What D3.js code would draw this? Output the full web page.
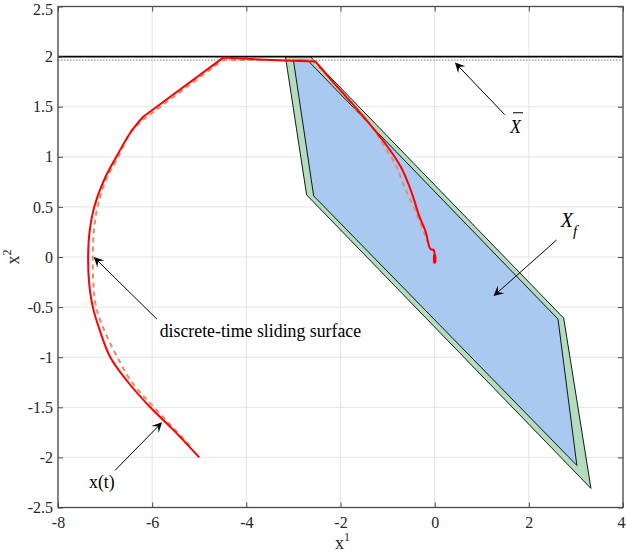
<!DOCTYPE html>
<html>
<head>
<meta charset="utf-8">
<script src="https://cdn.jsdelivr.net/npm/d3@7"></script>
<style>
  body { margin: 0; background: #fff; }
  svg text { font-family: "Liberation Serif", "Times New Roman", Times, "DejaVu Serif", serif; }
</style>
</head>
<body>
<div id="wrapper"></div>
<script>
// Data
const xTicks = [-8, -6, -4, -2, 0, 2, 4]
const yTicks = [-2.5, -2, -1.5, -1, -0.5, 0, 0.5, 1, 1.5, 2, 2.5]

// terminal set (outer) and tightened terminal set (inner)
const outerSet = [[-3.17, 2.0], [-2.64, 2.0], [2.74, -0.61], [3.32, -2.31], [-2.72, 0.62]]
const innerSet = [[-3.0, 1.965], [-2.70, 1.965], [2.62, -0.62], [3.02, -2.08], [-2.57, 0.61]]

// state constraint x2 <= 2 and its tightened version
const stateLimit = 2
const stateLimitTight = 1.965

// closed-loop trajectory x(t): smooth arc, straight run along the constraint, smooth descent
const trajectoryArc = [
  [-5.0, -2.0], [-5.54, -1.73], [-6.04, -1.5], [-6.51, -1.25], [-6.89, -1.0],
  [-7.1, -0.75], [-7.26, -0.5], [-7.34, -0.25], [-7.36, 0], [-7.33, 0.25],
  [-7.23, 0.5], [-7.02, 0.77], [-6.76, 1.0], [-6.45, 1.25], [-6.19, 1.4]
]
const trajectoryTop = [[-6.19, 1.4], [-4.49, 1.99], [-3.21, 1.96], [-2.53, 1.95], [-2.15, 1.74]]
const trajectoryDescent = [
  [-2.15, 1.74], [-1.51, 1.40], [-1.0, 1.10], [-0.72, 0.90], [-0.55, 0.72], [-0.43, 0.56],
  [-0.33, 0.41], [-0.19, 0.25], [-0.12, 0.11], [-0.09, 0.08], [-0.02, 0.07], [0, 0.0], [0, -0.05]
]

// discrete-time sliding surface (reference)
const slidingArc = [
  [-5.2, -1.88], [-5.96, -1.5], [-6.43, -1.25], [-6.74, -1.0], [-7.0, -0.75],
  [-7.19, -0.5], [-7.25, -0.25], [-7.26, 0], [-7.24, 0.25], [-7.16, 0.5],
  [-6.98, 0.77], [-6.72, 1.0], [-6.45, 1.25], [-6.19, 1.37]
]
const slidingTop = [[-6.19, 1.37], [-4.5, 1.965], [-2.6, 1.965], [-2.0, 1.67]]
const slidingDescent = [
  [-2.0, 1.67], [-1.62, 1.45], [-1.32, 1.29], [-1.09, 1.12], [-0.83, 0.92],
  [-0.64, 0.70], [-0.40, 0.45], [-0.23, 0.25], [-0.15, 0.15]
]

// annotation arrows: from text to tip, in data units
const arrows = [
  { from: [1.49, 1.42], to: [0.43, 1.94] },
  { from: [2.59, 0.17], to: [1.25, -0.39] },
  { from: [-5.90, -0.62], to: [-7.24, 0.0] },
  { from: [-6.79, -2.13], to: [-5.79, -1.65] },
]
const labelXbar = [1.60, 1.24]
const labelXf = [2.68, 0.30]
const labelSliding = { text: "discrete-time sliding surface", at: [-5.84, -0.80] }
const labelTraj = { text: "x(t)", at: [-7.34, -2.31] }

// dimensions
const dimensions = {
  width: 626,
  height: 554,
  left: 58,
  right: 623,
  top: 6.5,
  bottom: 507.5,
  tickSize: 5,
}

const svg = d3.select("#wrapper")
  .append("svg")
    .attr("width", dimensions.width)
    .attr("height", dimensions.height)

// scales
const xScale = d3.scaleLinear()
  .domain([-8, 4])
  .range([dimensions.left, dimensions.right])
const yScale = d3.scaleLinear()
  .domain([-2.5, 2.5])
  .range([dimensions.bottom, dimensions.top])

const lineGenerator = d3.line()
  .x(d => xScale(d[0]))
  .y(d => yScale(d[1]))
const curveGenerator = d3.line()
  .x(d => xScale(d[0]))
  .y(d => yScale(d[1]))
  .curve(d3.curveCatmullRom.alpha(0.5))

// joins curved / straight / curved pieces into one path
const piecewise = (arc, top, descent) => [
  curveGenerator(arc),
  lineGenerator(top).replace(/^M/, "L"),
  curveGenerator(descent).replace(/^M/, "L"),
].join("")

// grid
const gridGroup = svg.append("g")
gridGroup.selectAll(".vgrid")
  .data(xTicks)
  .enter().append("line")
    .attr("x1", d => xScale(d)).attr("x2", d => xScale(d))
    .attr("y1", dimensions.top).attr("y2", dimensions.bottom)
    .attr("stroke", "#e3e3e3")
    .attr("stroke-width", 1)
gridGroup.selectAll(".hgrid")
  .data(yTicks)
  .enter().append("line")
    .attr("y1", d => yScale(d)).attr("y2", d => yScale(d))
    .attr("x1", dimensions.left).attr("x2", dimensions.right)
    .attr("stroke", "#e3e3e3")
    .attr("stroke-width", 1)

// sets
svg.append("path")
  .attr("d", lineGenerator(outerSet) + "Z")
  .attr("fill", "#b4dcbf")
  .attr("stroke", "#000")
  .attr("stroke-width", 0.9)
svg.append("path")
  .attr("d", lineGenerator(innerSet) + "Z")
  .attr("fill", "#a9c9f1")
  .attr("stroke", "#000")
  .attr("stroke-width", 0.9)

// constraint lines
svg.append("line")
  .attr("x1", dimensions.left).attr("x2", dimensions.right)
  .attr("y1", yScale(stateLimit)).attr("y2", yScale(stateLimit))
  .attr("stroke", "#000")
  .attr("stroke-width", 1.8)
svg.append("line")
  .attr("x1", dimensions.left).attr("x2", dimensions.right)
  .attr("y1", yScale(stateLimitTight)).attr("y2", yScale(stateLimitTight))
  .attr("stroke", "#9a9a9a")
  .attr("stroke-width", 1.2)
  .attr("stroke-dasharray", "1.5,1.5")

// trajectories
svg.append("path")
  .attr("d", piecewise(slidingArc, slidingTop, slidingDescent))
  .attr("fill", "none")
  .attr("stroke", "#ea8a66")
  .attr("stroke-width", 2)
  .attr("stroke-dasharray", "5,4")
svg.append("path")
  .attr("d", piecewise(trajectoryArc, trajectoryTop, trajectoryDescent))
  .attr("fill", "none")
  .attr("stroke", "#ff0000")
  .attr("stroke-width", 2)
  .attr("stroke-linejoin", "round")
// end point blob
const lastPoint = trajectoryDescent[trajectoryDescent.length - 1]
svg.append("line")
  .attr("x1", xScale(lastPoint[0])).attr("x2", xScale(lastPoint[0]))
  .attr("y1", yScale(lastPoint[1])).attr("y2", yScale(lastPoint[1]) - 6)
  .attr("stroke", "#ff0000")
  .attr("stroke-width", 3.5)
  .attr("stroke-linecap", "round")

// arrows
const arrowGroup = svg.append("g")
arrows.forEach(a => {
  const x1 = xScale(a.from[0]), y1 = yScale(a.from[1])
  const x2 = xScale(a.to[0]), y2 = yScale(a.to[1])
  const angle = Math.atan2(y2 - y1, x2 - x1)
  const len = 10, half = 5, notch = 6
  const ux = Math.cos(angle), uy = Math.sin(angle)
  const px = -uy, py = ux
  arrowGroup.append("line")
    .attr("x1", x1).attr("y1", y1)
    .attr("x2", x2 - ux * notch).attr("y2", y2 - uy * notch)
    .attr("stroke", "#000")
    .attr("stroke-width", 1)
  const head = [
    [x2, y2],
    [x2 - ux * len + px * half, y2 - uy * len + py * half],
    [x2 - ux * notch, y2 - uy * notch],
    [x2 - ux * len - px * half, y2 - uy * len - py * half],
  ]
  arrowGroup.append("polygon")
    .attr("points", head.map(p => p.join(",")).join(" "))
    .attr("fill", "#000")
})

// labels
const xbar = svg.append("g")
  .attr("transform", `translate(${xScale(labelXbar[0])}, ${yScale(labelXbar[1])})`)
xbar.append("text")
  .attr("font-size", 18)
  .attr("font-style", "italic")
  .attr("fill", "#000")
  .text("X")
xbar.append("line")
  .attr("x1", 3).attr("x2", 13)
  .attr("y1", -20).attr("y2", -20)
  .attr("stroke", "#000")
  .attr("stroke-width", 1)

const xf = svg.append("text")
  .attr("x", xScale(labelXf[0]))
  .attr("y", yScale(labelXf[1]))
  .attr("font-size", 20)
  .attr("font-style", "italic")
  .attr("fill", "#000")
xf.append("tspan").text("X")
xf.append("tspan")
  .attr("dy", 9)
  .attr("font-size", 15)
  .text("f")

svg.append("text")
  .attr("x", xScale(labelSliding.at[0]))
  .attr("y", yScale(labelSliding.at[1]))
  .attr("font-size", 17.8)
  .attr("fill", "#000")
  .text(labelSliding.text)
svg.append("text")
  .attr("x", xScale(labelTraj.at[0]))
  .attr("y", yScale(labelTraj.at[1]))
  .attr("font-size", 17.8)
  .attr("fill", "#000")
  .text(labelTraj.text)

// axes box and ticks
const axisColor = "#4a4a4a"
svg.append("rect")
  .attr("x", dimensions.left).attr("y", dimensions.top)
  .attr("width", dimensions.right - dimensions.left)
  .attr("height", dimensions.bottom - dimensions.top)
  .attr("fill", "none")
  .attr("stroke", axisColor)
  .attr("stroke-width", 1.3)

const xAxis = d3.axisBottom(xScale)
  .tickValues(xTicks)
  .tickSizeInner(-dimensions.tickSize)
  .tickSizeOuter(0)
  .tickPadding(9)
  .tickFormat(d3.format("d"))
const yAxis = d3.axisLeft(yScale)
  .tickValues(yTicks)
  .tickSizeInner(-dimensions.tickSize)
  .tickSizeOuter(0)
  .tickPadding(5)
  .tickFormat(d => d3.format("")(d))

const xAxisGroup = svg.append("g")
  .attr("transform", `translate(0, ${dimensions.bottom})`)
  .call(xAxis)
const yAxisGroup = svg.append("g")
  .attr("transform", `translate(${dimensions.left}, 0)`)
  .call(yAxis)
// mirrored ticks on top and right
svg.append("g")
  .attr("transform", `translate(0, ${dimensions.top})`)
  .call(d3.axisTop(xScale).tickValues(xTicks).tickSizeInner(-dimensions.tickSize).tickSizeOuter(0).tickFormat(""))
svg.append("g")
  .attr("transform", `translate(${dimensions.right}, 0)`)
  .call(d3.axisRight(yScale).tickValues(yTicks).tickSizeInner(-dimensions.tickSize).tickSizeOuter(0).tickFormat(""))

svg.selectAll(".domain").remove()
svg.selectAll(".tick line").attr("stroke", axisColor).attr("stroke-width", 1)
svg.selectAll(".tick text")
  .attr("font-size", 16)
  .attr("fill", "#262626")
  .text(function () { return this.textContent.replace("−", "-") })
// keep the outermost tick labels inside the window
xAxisGroup.selectAll(".tick text")
  .filter(d => d === xTicks[xTicks.length - 1])
  .attr("dx", -2)
yAxisGroup.selectAll(".tick text")
  .filter(d => d === yTicks[yTicks.length - 1])
  .attr("dy", "0.5em")

// axis titles
const xLabel = svg.append("text")
  .attr("x", (dimensions.left + dimensions.right) / 2 + 2)
  .attr("y", 549)
  .attr("text-anchor", "middle")
  .attr("font-size", 18)
  .attr("fill", "#262626")
xLabel.append("tspan").text("x")
xLabel.append("tspan").attr("dy", -8).attr("font-size", 12).text("1")

const yLabel = svg.append("text")
  .attr("transform", `translate(19, ${(dimensions.top + dimensions.bottom) / 2}) rotate(-90)`)
  .attr("text-anchor", "middle")
  .attr("font-size", 18)
  .attr("fill", "#262626")
yLabel.append("tspan").text("x")
yLabel.append("tspan").attr("dy", -8).attr("font-size", 12).text("2")
</script>
</body>
</html>
